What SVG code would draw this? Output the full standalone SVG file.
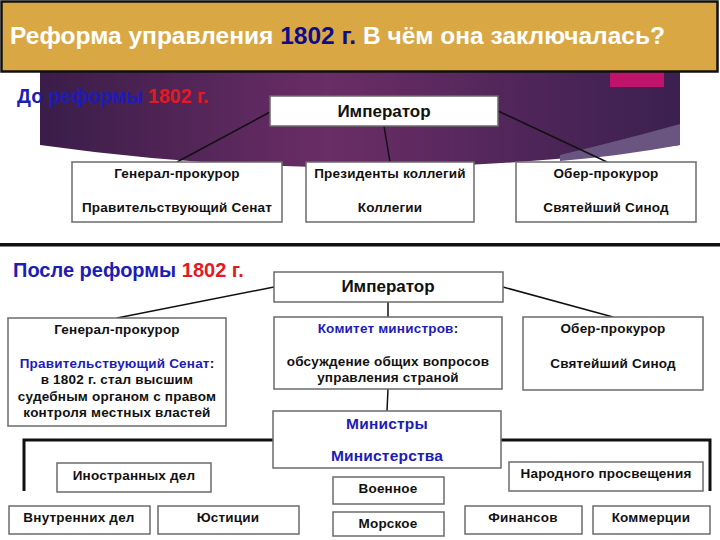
<svg xmlns="http://www.w3.org/2000/svg" width="720" height="540" viewBox="0 0 720 540">
<defs>
<linearGradient id="purple" x1="0" y1="0" x2="1" y2="0">
<stop offset="0" stop-color="#3a1d48"/>
<stop offset="0.45" stop-color="#6a2d66"/>
<stop offset="1" stop-color="#3b2050"/>
</linearGradient>
<style>
text{font-family:"Liberation Sans",Arial,sans-serif;font-weight:bold;}
.box{fill:#fff;stroke:#6b6b6b;stroke-width:1.5;}
.t{font-size:13.5px;letter-spacing:0.2px;fill:#111;text-anchor:middle;}
.h{font-size:17px;fill:#111;text-anchor:middle;}
.blue{fill:#1c1cb8;}
.red{fill:#e41a22;}
.ln{stroke:#111;stroke-width:1.5;fill:none;}
.thick{stroke:#111;stroke-width:3;fill:none;}
</style>
</defs>
<rect x="0" y="0" width="720" height="540" fill="#fff"/>

<!-- purple background (upper section) -->
<path d="M40,72 H680 V145 Q360,190 40,145 Z" fill="url(#purple)"/>
<path d="M560,155 Q630,138 680,124 V145 Q620,156 560,161 Z" fill="#6a5580"/>
<rect x="610" y="72" width="54" height="15" fill="#c0136a"/>

<!-- title bar -->
<g id="title">
<rect x="1.5" y="1.5" width="716" height="70" fill="#d9a845" stroke="#111" stroke-width="2.5"/>
<text x="10" y="44" textLength="655" lengthAdjust="spacingAndGlyphs" style="font-size:24px;fill:#fff">Реформа управления <tspan fill="#0d0d8c">1802 г.</tspan> В чём она заключалась?</text>
</g>

<!-- upper section -->
<text x="17" y="103" style="font-size:19.5px"><tspan class="blue">До реформы</tspan> <tspan class="red">1802 г.</tspan></text>

<g id="connectors">
<line class="ln" x1="270" y1="112" x2="177" y2="162"/>
<line class="ln" x1="384" y1="126" x2="390" y2="162"/>
<line class="ln" x1="498" y1="111" x2="607" y2="162"/>
<line class="ln" x1="274" y1="287" x2="117" y2="318"/>
<line class="ln" x1="503" y1="287" x2="613" y2="317"/>
<line class="ln" x1="388" y1="302" x2="388" y2="317"/>
<line class="ln" x1="388" y1="389" x2="387" y2="411"/>
<path class="thick" d="M24,491 V440 H273"/>
<path class="thick" d="M501,440 H710 V491"/>
</g>

<g id="emperor1">
<rect class="box" x="270" y="96" width="228" height="30"/>
<text class="h" x="384" y="117">Император</text>
</g>
<g id="genproc1">
<rect class="box" x="72" y="162" width="210" height="60"/>
<text class="t" x="177" y="178">Генерал-прокурор</text>
<text class="t" x="177" y="212">Правительствующий Сенат</text>
</g>
<g id="presidents1">
<rect class="box" x="306" y="162" width="168" height="60"/>
<text class="t" x="390" y="178">Президенты коллегий</text>
<text class="t" x="390" y="212">Коллегии</text>
</g>
<g id="ober1">
<rect class="box" x="516" y="162" width="180" height="60"/>
<text class="t" x="606" y="178">Обер-прокурор</text>
<text class="t" x="606" y="212">Святейший Синод</text>
</g>

<!-- separator -->
<rect x="0" y="243" width="720" height="3.5" fill="#111"/>

<!-- lower section -->
<text x="13" y="277" style="font-size:20px"><tspan class="blue">После реформы</tspan> <tspan class="red">1802 г.</tspan></text>

<g id="emperor2">
<rect class="box" x="274" y="272" width="229" height="30"/>
<text class="h" x="388" y="292">Император</text>
</g>
<g id="genproc2">
<rect class="box" x="8" y="318" width="218" height="108"/>
<text class="t" x="117" y="334">Генерал-прокурор</text>
<text class="t" x="117" y="368"><tspan class="blue">Правительствующий Сенат</tspan>:</text>
<text class="t" x="117" y="384">в 1802 г. стал высшим</text>
<text class="t" x="117" y="401">судебным органом с правом</text>
<text class="t" x="117" y="417">контроля местных властей</text>
</g>
<g id="committee">
<rect class="box" x="274" y="317" width="228" height="72"/>
<text class="t" x="388" y="333"><tspan class="blue">Комитет министров</tspan>:</text>
<text class="t" x="388" y="366">обсуждение общих вопросов</text>
<text class="t" x="388" y="382">управления страной</text>
</g>
<g id="ober2">
<rect class="box" x="523" y="317" width="180" height="73"/>
<text class="t" x="613" y="333">Обер-прокурор</text>
<text class="t" x="613" y="368">Святейший Синод</text>
</g>
<g id="ministers">
<rect class="box" x="273" y="411" width="228" height="57"/>
<text class="t blue" x="387" y="429" style="font-size:15.5px">Министры</text>
<text class="t blue" x="387" y="461" style="font-size:15.5px">Министерства</text>
</g>

<g id="foreign">
<rect class="box" x="57" y="463" width="154" height="29"/>
<text class="t" x="134" y="480">Иностранных дел</text>
</g>
<g id="interior">
<rect class="box" x="9" y="506" width="141" height="28"/>
<text class="t" x="79" y="522">Внутренних дел</text>
</g>
<g id="justice">
<rect class="box" x="158" y="506" width="141" height="28"/>
<text class="t" x="228" y="522">Юстиции</text>
</g>
<g id="military">
<rect class="box" x="333" y="477" width="111" height="27"/>
<text class="t" x="388" y="493">Военное</text>
</g>
<g id="naval">
<rect class="box" x="333" y="512" width="111" height="24"/>
<text class="t" x="388" y="528">Морское</text>
</g>
<g id="education">
<rect class="box" x="509" y="462" width="194" height="29"/>
<text class="t" x="606" y="478">Народного просвещения</text>
</g>
<g id="finance">
<rect class="box" x="465" y="506" width="117" height="28"/>
<text class="t" x="523" y="522">Финансов</text>
</g>
<g id="commerce">
<rect class="box" x="593" y="506" width="117" height="28"/>
<text class="t" x="651" y="522">Коммерции</text>
</g>
</svg>
